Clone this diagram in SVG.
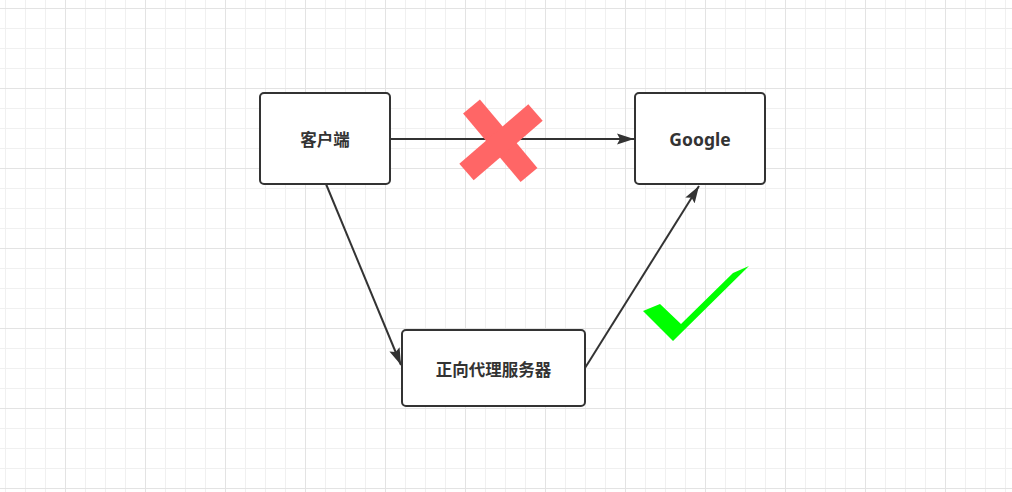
<svg xmlns="http://www.w3.org/2000/svg" width="1012" height="492" viewBox="0 0 1012 492">
<style>
.node rect{fill:#fff;stroke:#333;stroke-width:2}
.node text{font-family:"Noto Sans CJK SC","Liberation Sans",sans-serif;font-weight:bold;font-size:16.5px;fill:#333;text-anchor:middle;dominant-baseline:central}
.node text.lat{font-family:"Noto Sans","Open Sans","Noto Sans CJK SC",sans-serif;font-size:17.5px}
.edge{fill:none;stroke:#333;stroke-width:2;marker-end:url(#arrow)}
</style>
<defs>
<pattern id="minor" x="5" y="8" width="20" height="20" patternUnits="userSpaceOnUse">
<path d="M0 0.5H20M0.5 0V20" fill="none" stroke="#f0f0f0" stroke-width="1"/>
</pattern>
<pattern id="major" x="65" y="8" width="80" height="80" patternUnits="userSpaceOnUse">
<path d="M0 0.5H80M0.5 0V80" fill="none" stroke="#e3e3e3" stroke-width="1"/>
</pattern>
<marker id="arrow" markerWidth="18" markerHeight="12" refX="17" refY="6" orient="auto" markerUnits="userSpaceOnUse">
<path d="M0 0.5L17 6L0 11.5L3 6Z" fill="#333"/>
</marker>
</defs>
<rect width="1012" height="492" fill="#fff"/>
<rect width="1012" height="492" fill="url(#minor)"/>
<rect width="1012" height="492" fill="url(#major)"/>
<g id="connectors">
<path class="edge" d="M390 139H634"/>
<path class="edge" d="M326 184L401 365"/>
<path class="edge" d="M585 368L699 186"/>
</g>
<g id="cross">
<line x1="471.5" y1="106.5" x2="529" y2="175" stroke="#ff6666" stroke-width="22"/>
<line x1="535.5" y1="112.5" x2="466.5" y2="172" stroke="#ff6666" stroke-width="22"/>
</g>
<g id="check">
<polygon points="643,311 660,304 681,324 733,273 749,266 673,341" fill="#00ff00"/>
</g>
<g id="client" class="node">
<rect x="260" y="93" width="130" height="91" rx="4"/>
<text x="325" y="139">客户端</text>
</g>
<g id="google" class="node">
<rect x="635" y="93" width="130" height="91" rx="4"/>
<text class="lat" x="700" y="139">Google</text>
</g>
<g id="proxy" class="node">
<rect x="402" y="330" width="183" height="76" rx="4"/>
<text x="493.5" y="369">正向代理服务器</text>
</g>
</svg>
